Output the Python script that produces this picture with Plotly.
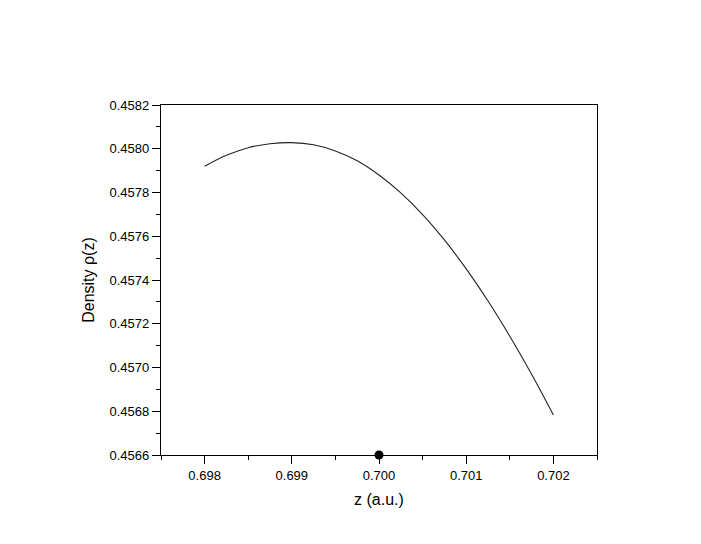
import plotly.graph_objects as go

# Values
z_values = [0.69800, 0.69825, 0.69850, 0.69875, 0.69900, 0.69925, 0.69950, 0.69975,
            0.70000, 0.70025, 0.70050, 0.70075, 0.70100, 0.70125, 0.70150, 0.70175, 0.70200]
density_values = [0.457920, 0.457970, 0.458005, 0.458023, 0.458028, 0.458018, 0.457990, 0.457945,
                  0.457880, 0.457798, 0.457699, 0.457583, 0.457451, 0.457304, 0.457143, 0.456969, 0.456783]
point_z = [0.700]
point_density = [0.4566]

x_ticks = [0.698, 0.699, 0.700, 0.701, 0.702]
x_tick_labels = ["0.698", "0.699", "0.700", "0.701", "0.702"]
y_ticks = [0.4566, 0.4568, 0.4570, 0.4572, 0.4574, 0.4576, 0.4578, 0.4580, 0.4582]
y_tick_labels = ["0.4566", "0.4568", "0.4570", "0.4572", "0.4574", "0.4576", "0.4578", "0.4580", "0.4582"]

fig = go.Figure()
fig.add_trace(go.Scatter(x=z_values, y=density_values, mode="lines",
                         line=dict(color="#222222", width=1.1, shape="spline"),
                         showlegend=False, hoverinfo="skip"))
fig.add_trace(go.Scatter(x=point_z, y=point_density, mode="markers",
                         marker=dict(color="black", size=9),
                         cliponaxis=False, showlegend=False))

font_family = "Liberation Sans, Arial, sans-serif"
fig.update_layout(
    width=701, height=544,
    margin=dict(l=153, r=112, t=97, b=97),
    paper_bgcolor="white", plot_bgcolor="white",
    font=dict(family=font_family, color="black", size=13),
)
fig.update_xaxes(
    range=[0.6975, 0.7025], tickvals=x_ticks, ticktext=x_tick_labels,
    showgrid=False, zeroline=False, showline=True, linecolor="black", linewidth=1.3,
    mirror=True, ticks="outside", ticklen=8, tickwidth=1, tickcolor="black",
    minor=dict(dtick=0.0005, tick0=0.6975, ticks="outside", ticklen=4, tickcolor="black", showgrid=False),
    tickfont=dict(size=13),
    title=dict(text="z (a.u.)", font=dict(size=16), standoff=12),
)
fig.update_yaxes(
    range=[0.4566, 0.4582], tickvals=y_ticks, ticktext=y_tick_labels,
    showgrid=False, zeroline=False, showline=True, linecolor="black", linewidth=1.3,
    mirror=True, ticks="outside", ticklen=8, tickwidth=1, tickcolor="black",
    minor=dict(dtick=0.0001, tick0=0.4566, ticks="outside", ticklen=4, tickcolor="black", showgrid=False),
    tickfont=dict(size=13),
    title=dict(text="Density ρ(z)", font=dict(size=16), standoff=10),
)

fig.write_html("out.html")
